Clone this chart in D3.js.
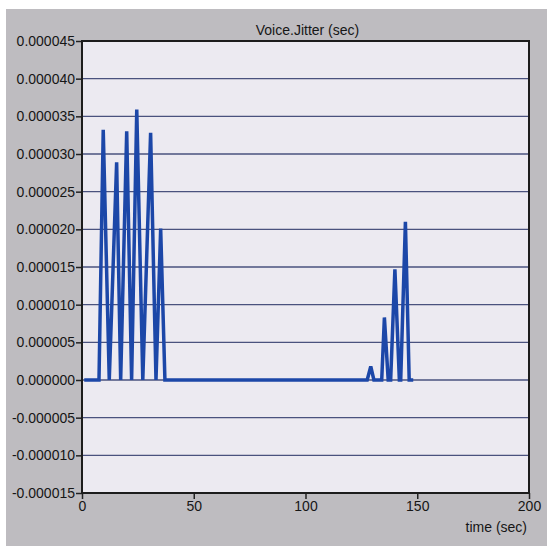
<!DOCTYPE html>
<html>
<head>
<meta charset="utf-8">
<script src="https://cdn.jsdelivr.net/npm/d3@7"></script>
<style>
  html, body { margin: 0; padding: 0; background: #ffffff; }
  svg { display: block; }
  text { font-family: "Liberation Sans", Arial, sans-serif; }
</style>
</head>
<body>
<script>
// Voice jitter trace: time (s) and jitter (s)
const times = [1, 7.6, 9.5, 12.2, 15.5, 17.3, 20.0, 22.2, 24.5, 27.2, 30.7, 33.1, 35.2, 37.1,
               127.6, 129.2, 130.6, 134.1, 135.3, 137.0, 138.1, 140.0, 142.0, 142.6, 144.7, 146.4, 148.2];
const jitter = [0, 0, 0.0000332, 0, 0.0000289, 0, 0.0000330, 0, 0.0000359, 0, 0.0000328, 0, 0.0000201, 0,
                0, 0.0000018, 0, 0, 0.0000083, 0, 0, 0.0000147, 0, 0, 0.0000210, 0, 0];
const yTicks = [0.000045, 0.000040, 0.000035, 0.000030, 0.000025, 0.000020, 0.000015, 0.000010,
                0.000005, 0, -0.000005, -0.000010, -0.000015];
const xTicks = [0, 50, 100, 150, 200];

const W = 547, H = 546;
const plot = { left: 82, top: 41, right: 529, bottom: 493 };
const FONT = 14;

const svg = d3.select("body").append("svg").attr("width", W).attr("height", H);

// panel background
svg.append("rect").attr("x", 6).attr("y", 9).attr("width", W - 6).attr("height", H - 9)
  .attr("fill", "#bebcc0");

const x = d3.scaleLinear().domain([0, 200]).range([plot.left, plot.right]);
const y = d3.scaleLinear().domain([-0.000015, 0.000045]).range([plot.bottom, plot.top]);

// plot area
svg.append("rect")
  .attr("x", plot.left).attr("y", plot.top)
  .attr("width", plot.right - plot.left).attr("height", plot.bottom - plot.top)
  .attr("fill", "#eceaf1");

// horizontal gridlines
svg.append("g").selectAll("line").data(yTicks.slice(1, -1)).join("line")
  .attr("x1", plot.left).attr("x2", plot.right)
  .attr("y1", d => y(d)).attr("y2", d => y(d))
  .attr("stroke", "#4a527e").attr("stroke-width", 1.3);

// axes
const fmt = d => d3.format(".6f")(d).replace("−", "-");
const yAxis = svg.append("g").attr("transform", `translate(${plot.left},0)`)
  .call(d3.axisLeft(y).tickValues(yTicks).tickFormat(fmt).tickSize(6).tickPadding(1));
const xAxis = svg.append("g").attr("transform", `translate(0,${plot.bottom})`)
  .call(d3.axisBottom(x).tickValues(xTicks).tickSize(6).tickPadding(1));
[yAxis, xAxis].forEach(g => {
  g.select(".domain").remove();
  g.selectAll("line").attr("stroke", "#222").attr("stroke-width", 1.5);
  g.selectAll("text").attr("fill", "#161616").attr("font-size", FONT)
    .attr("font-family", "'Liberation Sans', Arial, sans-serif");
});
xAxis.selectAll("text").attr("dy", "0.8em");

// data line
const line = d3.line().x((d, i) => x(times[i])).y(d => y(d));
svg.append("path").datum(jitter)
  .attr("d", line)
  .attr("fill", "none")
  .attr("stroke", "#1c47a8")
  .attr("stroke-width", 3.5)
  .attr("stroke-linejoin", "miter")
  .attr("stroke-miterlimit", 2);

// plot frame
svg.append("rect")
  .attr("x", plot.left).attr("y", plot.top)
  .attr("width", plot.right - plot.left).attr("height", plot.bottom - plot.top)
  .attr("fill", "none").attr("stroke", "#1c1c1c").attr("stroke-width", 2);

// title and axis label
svg.append("text").attr("x", (plot.left + plot.right) / 2 + 2).attr("y", 35)
  .attr("text-anchor", "middle").attr("font-size", FONT).attr("fill", "#161616")
  .text("Voice.Jitter (sec)");
svg.append("text").attr("x", 527).attr("y", 532)
  .attr("text-anchor", "end").attr("font-size", FONT).attr("fill", "#161616")
  .text("time (sec)");
</script>
</body>
</html>
